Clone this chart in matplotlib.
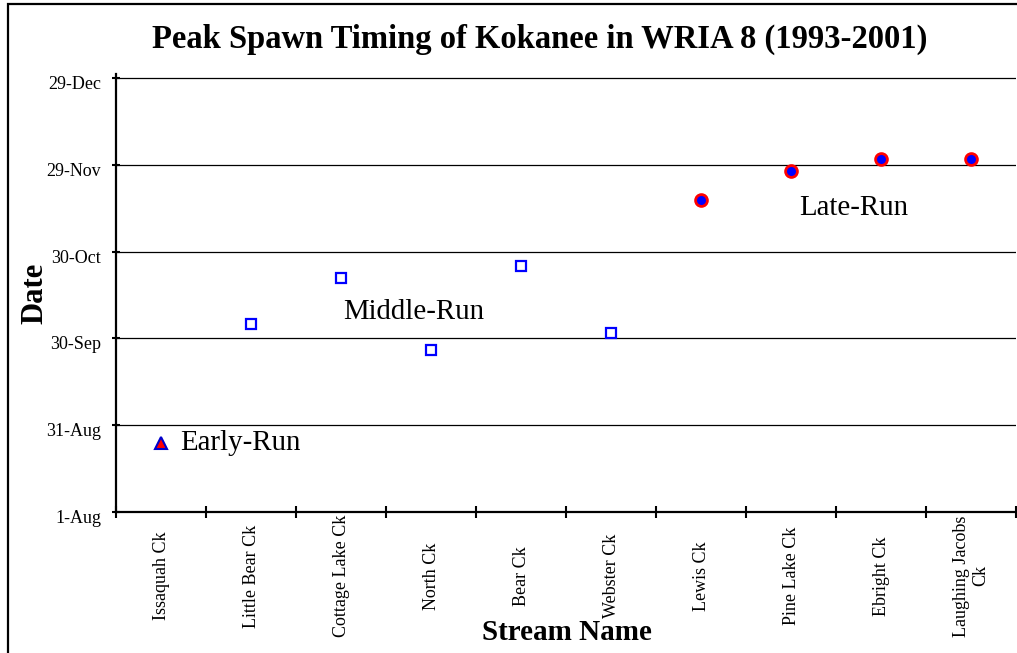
import numpy as np
import pandas as pd
import matplotlib
matplotlib.use("Agg")
import matplotlib.pyplot as plt
import matplotlib.dates as mdates
from matplotlib.patches import Rectangle
from matplotlib.transforms import ScaledTranslation

# ============================================================
#  Data (peak spawn date per stream, nominal year)
# ============================================================
streams = ["Issaquah Ck", "Little Bear Ck", "Cottage Lake Ck", "North Ck",
           "Bear Ck", "Webster Ck", "Lewis Ck", "Pine Lake Ck",
           "Ebright Ck", "Laughing Jacobs\nCk"]

early_idx = [0]
early_dates = ["2001-08-25"]

middle_idx = [1, 2, 3, 4, 5]
middle_dates = ["2001-10-05", "2001-10-21", "2001-09-26", "2001-10-25", "2001-10-02"]

late_idx = [6, 7, 8, 9]
late_dates = ["2001-11-17", "2001-11-27", "2001-12-01", "2001-12-01"]

y_ticks = ["2001-08-01", "2001-08-31", "2001-09-30", "2001-10-30",
           "2001-11-29", "2001-12-29"]
y_ticklabels = ["1-Aug", "31-Aug", "30-Sep", "30-Oct", "29-Nov", "29-Dec"]

# run labels: (text, x position in category units, date)
run_labels = [("Early-Run", 0.21, "2001-08-25"),
              ("Middle-Run", 2.02, "2001-10-09"),
              ("Late-Run", 7.09, "2001-11-14")]


def to_num(dates):
    return mdates.date2num(pd.to_datetime(dates))


# ============================================================
#  Plot
# ============================================================
plt.rcParams["font.family"] = "Liberation Serif"

fig = plt.figure(figsize=(10.17, 6.53), dpi=100)
ax = fig.add_axes([0.1141, 0.2159, 0.885, 0.6708])

ax.plot(early_idx, to_num(early_dates), linestyle="none", marker="^",
        markersize=9, markerfacecolor="red", markeredgecolor="#0000cc",
        markeredgewidth=1.5, zorder=3)
ax.plot(middle_idx, to_num(middle_dates), linestyle="none", marker="s",
        markersize=7.5, markerfacecolor="white", markeredgecolor="blue",
        markeredgewidth=1.6, zorder=3)
ax.plot(late_idx, to_num(late_dates), linestyle="none", marker="o",
        markersize=8.5, markerfacecolor="blue", markeredgecolor="red",
        markeredgewidth=2, zorder=3)

for txt, xpos, d in run_labels:
    ax.text(xpos, to_num([d])[0], txt, fontsize=20.8, ha="left", va="center")

yt = to_num(y_ticks)
ax.set_ylim(yt[0], yt[-1] + 1.4)
ax.set_yticks(yt)
ax.set_yticklabels(y_ticklabels)
ax.yaxis.grid(True, color="black", linewidth=0.9)
ax.set_axisbelow(True)

ax.set_xlim(-0.5, len(streams) - 0.5)
ax.set_xticks(np.arange(-0.5, len(streams), 1))
ax.set_xticklabels([])
ax.set_xticks(np.arange(len(streams)), minor=True)
ax.set_xticklabels(streams, minor=True, rotation=90, ha="center",
                   va="center", fontsize=13, multialignment="center")

ax.tick_params(axis="x", which="major", direction="inout", length=8, width=1.5)
ax.tick_params(axis="x", which="minor", length=0, pad=46)
ax.tick_params(axis="y", direction="inout", length=5.5, width=1.5,
               labelsize=13, pad=8)

offset = ScaledTranslation(0, -0.045, fig.dpi_scale_trans)
for lab in ax.get_yticklabels():
    lab.set_transform(lab.get_transform() + offset)

for s in ["top", "right"]:
    ax.spines[s].set_visible(False)
for s in ["left", "bottom"]:
    ax.spines[s].set_linewidth(1.6)

fig.text(0.531, 0.939, "Peak Spawn Timing of Kokanee in WRIA 8 (1993-2001)",
         fontsize=23.5, fontweight="bold", ha="center", va="center")
fig.text(0.0344, 0.551, "Date", fontsize=22, fontweight="bold",
         rotation=90, ha="center", va="center")
fig.text(0.5575, 0.032, "Stream Name", fontsize=21, fontweight="bold",
         ha="center", va="center")

# outer frame (only left/top edges fall inside the image)
fig.add_artist(Rectangle((8 / 1017, -0.1), 1.2, 1.1 - 4 / 653,
                         transform=fig.transFigure, fill=False,
                         linewidth=1.6, edgecolor="black"))

fig.savefig("out.png", dpi=100)
